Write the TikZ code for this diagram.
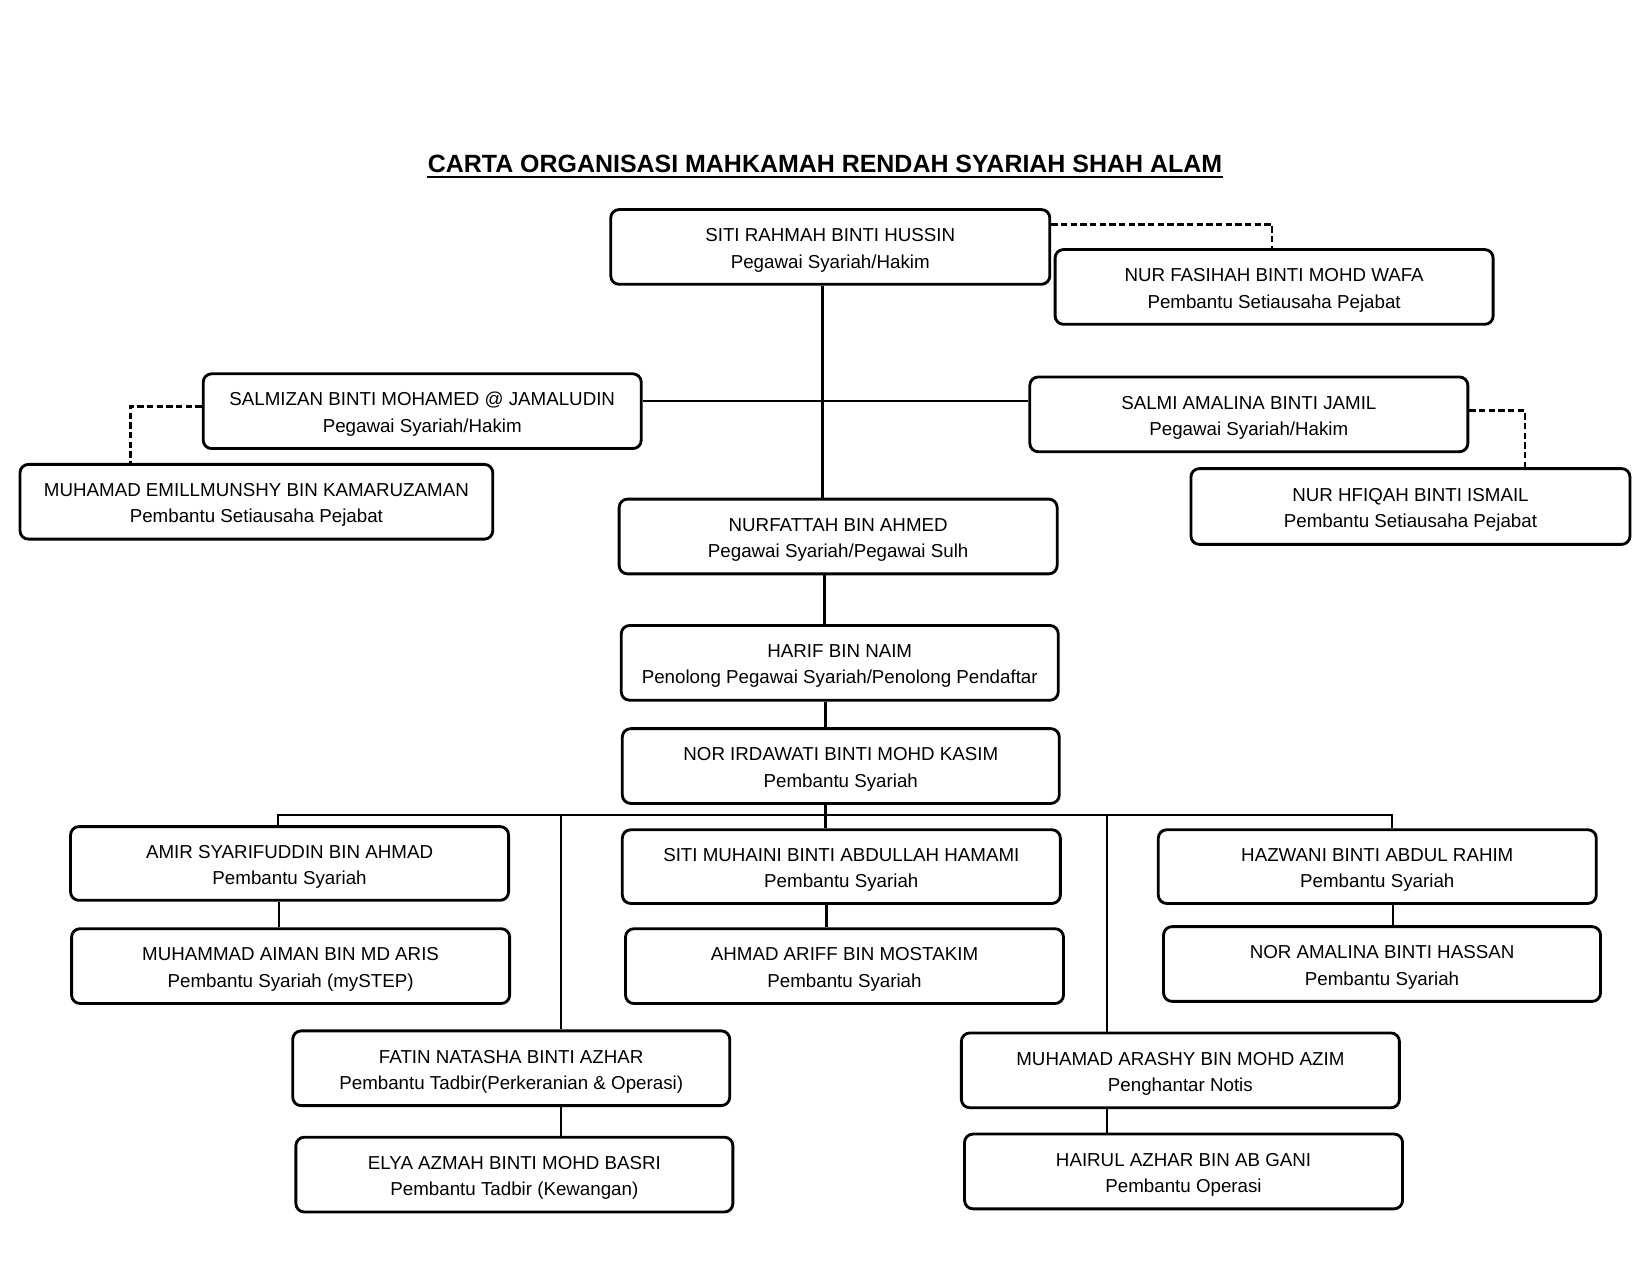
\documentclass[tikz,border=0pt]{standalone}
\usepackage{fontspec}
\setmainfont{Liberation Sans}
\newcommand\orgnode[6]{\node[orgbox, minimum width={0.5pt*(#4-#2)}, minimum height={0.5pt*(#5-#3)}] (#1) at ({(#2+#4)/2},{(#3+#5)/2}) {\rule{0pt}{9.4pt}#6};}
\begin{document}
\begin{tikzpicture}[x=0.5pt,y=-0.5pt,
  orgbox/.style={draw, line width=1.35pt, rounded corners=4pt, align=center,
    font=\fontsize{8.9}{12.5}\selectfont, inner sep=0pt},
  link/.style={line width=1.1pt},
  dlink/.style={line width=1.15pt, dash pattern=on 3pt off 1.6pt}]
\useasboundingbox[fill=white] (0,0) rectangle (1567,1211);

\node[anchor=base, inner sep=0pt, font=\bfseries\fontsize{11.85}{14}\selectfont] (title) at (783.5,164) {CARTA ORGANISASI MAHKAMAH RENDAH SYARIAH SHAH ALAM};
\draw[line width=0.9pt] ([yshift=-2.2pt]title.base west) -- ([yshift=-2.2pt]title.base east);

\orgnode{top}{580}{199}{997}{270}{SITI RAHMAH BINTI HUSSIN\\Pegawai Syariah/Hakim}
\orgnode{fasi}{1002}{237}{1418}{308}{NUR FASIHAH BINTI MOHD WAFA\\Pembantu Setiausaha Pejabat}
\orgnode{salz}{193}{355}{609}{426}{SALMIZAN BINTI MOHAMED @ JAMALUDIN\\Pegawai Syariah/Hakim}
\orgnode{emil}{19}{441}{468}{512}{MUHAMAD EMILLMUNSHY BIN KAMARUZAMAN\\Pembantu Setiausaha Pejabat}
\orgnode{salm}{978}{358}{1394}{429}{SALMI AMALINA BINTI JAMIL\\Pegawai Syariah/Hakim}
\orgnode{hfiq}{1131}{445}{1548}{517}{NUR HFIQAH BINTI ISMAIL\\Pembantu Setiausaha Pejabat}
\orgnode{nurf}{588}{474}{1004}{545}{NURFATTAH BIN AHMED\\Pegawai Syariah/Pegawai Sulh}
\orgnode{harif}{590}{594}{1005}{665}{HARIF BIN NAIM\\Penolong Pegawai Syariah/Penolong Pendaftar}
\orgnode{irda}{591}{692}{1006}{763}{NOR IRDAWATI BINTI MOHD KASIM\\Pembantu Syariah}
\orgnode{amir}{67}{785}{483}{855}{AMIR SYARIFUDDIN BIN AHMAD\\Pembantu Syariah}
\orgnode{muha}{591}{788}{1007}{858}{SITI MUHAINI BINTI ABDULLAH HAMAMI\\Pembantu Syariah}
\orgnode{hazw}{1100}{788}{1516}{858}{HAZWANI BINTI ABDUL RAHIM\\Pembantu Syariah}
\orgnode{aiman}{68}{882}{484}{953}{MUHAMMAD AIMAN BIN MD ARIS\\Pembantu Syariah (mySTEP)}
\orgnode{ariff}{594}{882}{1010}{953}{AHMAD ARIFF BIN MOSTAKIM\\Pembantu Syariah}
\orgnode{amal}{1105}{880}{1520}{951}{NOR AMALINA BINTI HASSAN\\Pembantu Syariah}
\orgnode{fatin}{278}{979}{693}{1050}{FATIN NATASHA BINTI AZHAR\\Pembantu Tadbir(Perkeranian \& Operasi)}
\orgnode{arash}{913}{981}{1329}{1052}{MUHAMAD ARASHY BIN MOHD AZIM\\Penghantar Notis}
\orgnode{elya}{281}{1080}{696}{1151}{ELYA AZMAH BINTI MOHD BASRI\\Pembantu Tadbir (Kewangan)}
\orgnode{hair}{916}{1077}{1332}{1148}{HAIRUL AZHAR BIN AB GANI\\Pembantu Operasi}

% solid connectors
\coordinate (tx) at (781,0);
\coordinate (hy) at (0,381);
\coordinate (cx2) at (783,0);
\coordinate (cx3) at (784,0);
\draw[link] (top.south -| tx) -- (nurf.north -| tx);
\draw[link] (salz.east |- hy) -- (salm.west |- hy);
\draw[link] (nurf.south -| cx2) -- (harif.north -| cx2);
\draw[link] (harif.south -| cx3) -- (irda.north -| cx3);

\coordinate (b1) at (264,774);
\coordinate (b2) at (533,774);
\coordinate (b3) at (784,774);
\coordinate (b4) at (1051,774);
\coordinate (b5) at (1322,774);
\draw[link] (amir.north -| b1) -- (b1) -- (b5) -- (hazw.north -| b5);
\draw[link] (irda.south -| b3) -- (muha.north -| b3);
\draw[link] (b2) -- (fatin.north -| b2);
\draw[link] (b4) -- (arash.north -| b4);

\coordinate (v1) at (265,0);
\coordinate (v2) at (785,0);
\coordinate (v3) at (1323,0);
\coordinate (v4) at (533,0);
\coordinate (v5) at (1051,0);
\draw[link] (amir.south -| v1) -- (aiman.north -| v1);
\draw[link] (muha.south -| v2) -- (ariff.north -| v2);
\draw[link] (hazw.south -| v3) -- (amal.north -| v3);
\draw[link] (fatin.south -| v4) -- (elya.north -| v4);
\draw[link] (arash.south -| v5) -- (hair.north -| v5);

% dashed connectors
\coordinate (d1) at (1208,213);
\coordinate (d2) at (124,386);
\coordinate (d3) at (1448,390);
\draw[dlink] (top.east |- d1) -| (fasi.north -| d1);
\draw[dlink] (salz.west |- d2) -| (emil.north -| d2);
\draw[dlink] (salm.east |- d3) -| (hfiq.north -| d3);
\end{tikzpicture}
\end{document}
